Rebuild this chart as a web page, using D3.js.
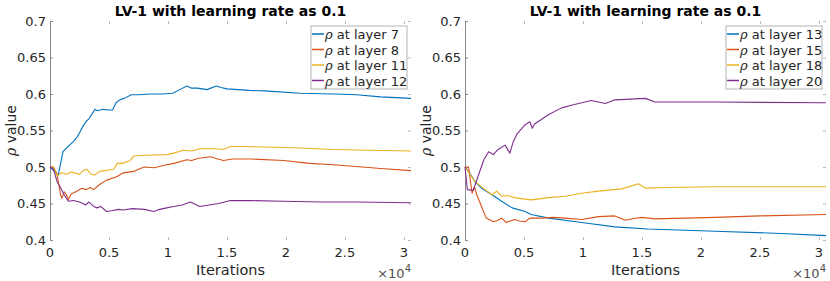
<!DOCTYPE html>
<html>
<head>
<meta charset="utf-8">
<script src="https://cdn.jsdelivr.net/npm/d3@7"></script>
<style>
body { margin: 0; background: #fff; }
svg text { font-family: "DejaVu Sans", sans-serif; fill: #262626; }
</style>
</head>
<body>
<svg id="chart" width="830" height="281"></svg>
<script>
// iterations, rho value
var xTicks = [0, 5000, 10000, 15000, 20000, 25000, 30000];
var xTickLabels = ["0", "0.5", "1", "1.5", "2", "2.5", "3"];
var yTicks = [0.4, 0.45, 0.5, 0.55, 0.6, 0.65, 0.7];
var yTickLabels = ["0.4", "0.45", "0.5", "0.55", "0.6", "0.65", "0.7"];
var colors = ["#0072BD", "#D95319", "#EDB120", "#7E2F8E"];

var leftNames = ["at layer 7", "at layer 8", "at layer 11", "at layer 12"];
var rightNames = ["at layer 13", "at layer 15", "at layer 18", "at layer 20"];

var layer7 = [[0,0.5],[700,0.489],[1100,0.521],[1400,0.526],[1800,0.532],[2000,0.535],[2300,0.541],[2500,0.547],[2800,0.556],[3100,0.563],[3300,0.566],[3500,0.571],[3800,0.579],[4000,0.577],[4500,0.579],[5000,0.578],[5300,0.578],[5600,0.588],[5900,0.592],[6300,0.594],[6900,0.599],[7500,0.599],[8500,0.6],[9500,0.6],[10400,0.601],[11000,0.606],[11600,0.611],[12000,0.608],[12500,0.608],[13300,0.606],[14100,0.611],[14500,0.609],[15000,0.607],[16900,0.605],[18500,0.604],[21200,0.601],[24000,0.6],[26000,0.599],[28000,0.596],[30600,0.594]];
var layer8 = [[0,0.5],[300,0.5],[600,0.49],[900,0.462],[1000,0.457],[1200,0.466],[1400,0.462],[1550,0.455],[1800,0.463],[2300,0.467],[2700,0.471],[3100,0.469],[3400,0.472],[3700,0.469],[4200,0.476],[4800,0.482],[5700,0.487],[6200,0.492],[7100,0.494],[7500,0.497],[8000,0.5],[8800,0.499],[9900,0.503],[10500,0.505],[11600,0.51],[12000,0.509],[12600,0.512],[13600,0.514],[14000,0.512],[14700,0.509],[15500,0.511],[17000,0.511],[19800,0.509],[22000,0.505],[24000,0.503],[26500,0.5],[28000,0.498],[30600,0.495]];
var layer11 = [[0,0.5],[300,0.5],[600,0.488],[1000,0.492],[1400,0.49],[1800,0.493],[2500,0.49],[2800,0.495],[3100,0.497],[3500,0.49],[3800,0.489],[4200,0.494],[5400,0.497],[5700,0.505],[6200,0.505],[6800,0.509],[7100,0.515],[8000,0.516],[9900,0.517],[10500,0.519],[11300,0.523],[12000,0.522],[12700,0.525],[14000,0.525],[14700,0.524],[15300,0.528],[16500,0.528],[19000,0.527],[21200,0.526],[24000,0.524],[27000,0.523],[30600,0.522]];
var layer12 = [[0,0.5],[300,0.497],[600,0.48],[850,0.473],[1200,0.462],[1550,0.453],[2000,0.454],[2500,0.452],[2800,0.45],[3000,0.448],[3300,0.452],[3700,0.446],[4000,0.444],[4300,0.446],[4800,0.439],[5200,0.44],[5800,0.442],[6200,0.441],[7000,0.443],[8000,0.442],[8800,0.439],[9300,0.442],[9900,0.444],[10500,0.446],[11200,0.448],[11900,0.452],[12300,0.449],[12700,0.446],[13500,0.448],[14300,0.45],[15300,0.454],[17000,0.454],[19800,0.453],[23000,0.452],[26000,0.452],[30600,0.451]];

var layer13 = [[0,0.5],[300,0.494],[850,0.48],[1400,0.471],[2300,0.462],[3100,0.453],[4000,0.444],[5100,0.439],[5600,0.435],[7100,0.43],[9900,0.424],[12700,0.418],[15500,0.415],[21200,0.412],[26800,0.409],[30600,0.406]];
var layer15 = [[0,0.5],[300,0.5],[600,0.464],[800,0.473],[1000,0.462],[1400,0.446],[1800,0.43],[2400,0.425],[2800,0.427],[3100,0.43],[3500,0.424],[4200,0.428],[4600,0.426],[5100,0.425],[5400,0.429],[5600,0.43],[6500,0.43],[7500,0.431],[8500,0.43],[9900,0.428],[11300,0.432],[12700,0.433],[13600,0.427],[14200,0.429],[15000,0.431],[16100,0.429],[21200,0.431],[25000,0.433],[30600,0.435]];
var layer18 = [[0,0.5],[850,0.48],[1700,0.469],[2300,0.462],[2700,0.467],[3100,0.46],[3600,0.461],[4200,0.458],[5100,0.456],[5600,0.455],[7100,0.458],[8500,0.46],[9900,0.464],[11300,0.467],[13300,0.47],[14700,0.477],[15300,0.471],[17000,0.472],[21200,0.473],[30600,0.473]];
var layer20 = [[0,0.5],[200,0.469],[700,0.468],[1100,0.487],[1600,0.51],[2000,0.521],[2400,0.517],[2800,0.524],[3400,0.53],[3800,0.519],[4100,0.535],[4400,0.545],[5100,0.558],[5500,0.562],[5700,0.553],[5900,0.559],[7100,0.572],[8200,0.581],[9100,0.585],[10700,0.591],[11900,0.587],[12700,0.592],[15300,0.594],[16100,0.589],[21200,0.589],[30600,0.588]];

var svg = d3.select("#chart");

var drawPanel = function(left, series, names) {
    var right = left + 361, top = 21, bottom = 240;
    var x = d3.scaleLinear().domain([0, 30600]).range([left, right]);
    var y = d3.scaleLinear().domain([0.4, 0.7]).range([bottom, top]);
    var g = svg.append("g");

    // inward ticks on all four sides
    g.append("g").attr("transform", "translate(0," + bottom + ")")
	.call(d3.axisBottom(x).tickValues(xTicks).tickSize(-3).tickFormat(""))
	.call(function(a) { a.select(".domain").remove(); a.selectAll("line").attr("stroke", "#b8b8b8"); });
    g.append("g").attr("transform", "translate(0," + top + ")")
	.call(d3.axisTop(x).tickValues(xTicks).tickSize(-3).tickFormat(""))
	.call(function(a) { a.select(".domain").remove(); a.selectAll("line").attr("stroke", "#b8b8b8"); });
    g.append("g").attr("transform", "translate(" + right + ",0)")
	.call(d3.axisRight(y).tickValues(yTicks).tickSize(-3).tickFormat(""))
	.call(function(a) { a.select(".domain").remove(); a.selectAll("line").attr("stroke", "#b8b8b8"); });
    g.append("g").attr("transform", "translate(" + left + ",0)")
	.call(d3.axisLeft(y).tickValues(yTicks).tickSize(-3).tickFormat(""))
	.call(function(a) { a.select(".domain").attr("stroke", "#8a8a8a"); a.selectAll("line").attr("stroke", "#8a8a8a"); });

    // tick labels
    g.selectAll(".xl").data(xTicks).enter().append("text")
	.attr("x", function(d) { return x(d); })
	.attr("y", 257)
	.attr("text-anchor", "middle")
	.style("font-size", "13px")
	.text(function(d, i) { return xTickLabels[i]; });
    g.selectAll(".yl").data(yTicks).enter().append("text")
	.attr("x", left - 4)
	.attr("y", function(d) { return y(d) + 4.5; })
	.attr("text-anchor", "end")
	.style("font-size", "13px")
	.text(function(d, i) { return yTickLabels[i]; });

    var line = d3.line()
	.x(function(d) { return x(d[0]); })
	.y(function(d) { return y(d[1]); });
    g.selectAll(".series").data(series).enter().append("path")
	.attr("d", line)
	.attr("fill", "none")
	.attr("stroke", function(d, i) { return colors[i]; })
	.attr("stroke-width", 1.1)
	.attr("stroke-linejoin", "round");

    g.append("text")
	.attr("x", (left + right) / 2)
	.attr("y", 16)
	.attr("text-anchor", "middle")
	.style("font-size", "14px")
	.style("font-weight", "bold")
	.style("fill", "#000")
	.text("LV-1 with learning rate as 0.1");

    g.append("text")
	.attr("x", (left + right) / 2)
	.attr("y", 275)
	.attr("text-anchor", "middle")
	.style("font-size", "14.5px")
	.text("Iterations");

    var yl = g.append("text")
	.attr("transform", "translate(" + (left - 34) + "," + ((top + bottom) / 2) + ") rotate(-90)")
	.attr("text-anchor", "middle")
	.style("font-size", "14px");
    yl.append("tspan").style("font-family", "DejaVu Serif").style("font-style", "italic").text("\u03C1");
    yl.append("tspan").text(" value");

    var ex = g.append("text")
	.attr("x", right)
	.attr("y", 278)
	.attr("text-anchor", "end")
	.style("font-size", "13px")
	.style("fill", "#505050");
    ex.append("tspan").text("\u00D710");
    ex.append("tspan").attr("dy", -6).style("font-size", "10px").text("4");

    // legend
    var lx = right - 100, ly = 26;
    g.append("rect")
	.attr("x", lx).attr("y", ly)
	.attr("width", 96).attr("height", 63)
	.attr("fill", "#fff")
	.attr("stroke", "#a0a0a0")
	.attr("stroke-width", 0.8);
    var items = g.selectAll(".leg").data(names).enter().append("g")
	.attr("transform", function(d, i) { return "translate(" + lx + "," + (ly + 8 + i * 15.5) + ")"; });
    items.append("line")
	.attr("x1", 1).attr("x2", 13)
	.attr("y1", 0).attr("y2", 0)
	.attr("stroke", function(d, i) { return colors[i]; })
	.attr("stroke-width", 1.5);
    var lt = items.append("text")
	.attr("x", 14)
	.attr("y", 5)
	.style("font-size", "13px");
    lt.append("tspan").style("font-family", "DejaVu Serif").style("font-style", "italic").text("\u03C1");
    lt.append("tspan").text(function(d) { return " " + d; });
};

drawPanel(50, [layer7, layer8, layer11, layer12], leftNames);
drawPanel(465, [layer13, layer15, layer18, layer20], rightNames);
</script>
</body>
</html>
